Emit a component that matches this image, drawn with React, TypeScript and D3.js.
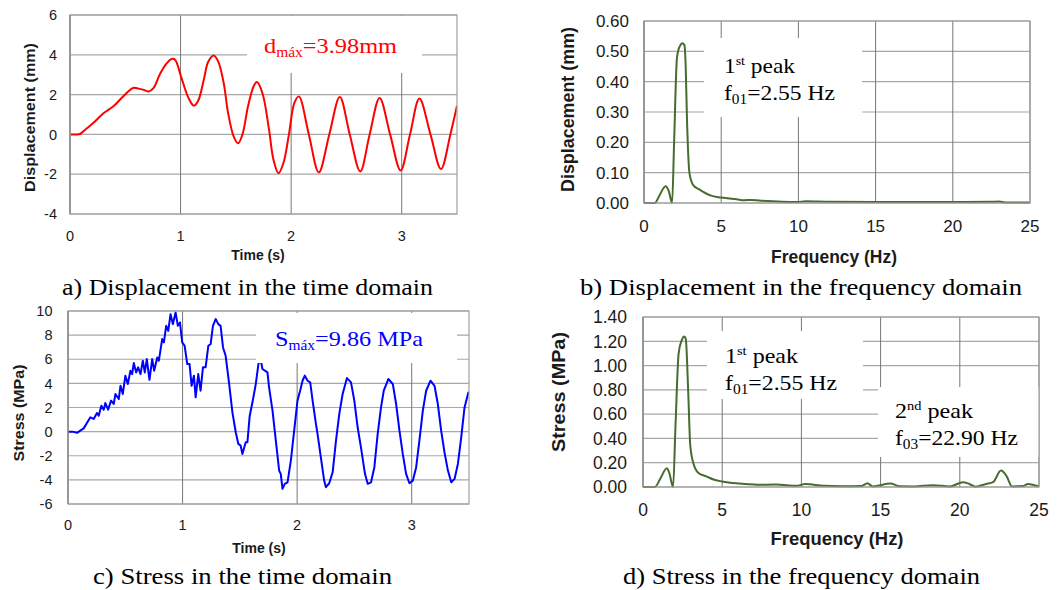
import React from 'react';
import * as d3 from 'd3';

// ---------- DATA ----------
const dispTime = [0, 0.05, 0.09, 0.15, 0.21, 0.3, 0.39, 0.48, 0.57, 0.62, 0.66, 0.71, 0.755, 0.815, 0.876, 0.92, 0.95, 1.01, 1.07, 1.12, 1.16, 1.21, 1.25, 1.3, 1.34, 1.39, 1.43, 1.48, 1.52, 1.56, 1.61, 1.66, 1.69, 1.74, 1.8, 1.84, 1.885, 1.93, 1.98, 2.03, 2.07, 2.16, 2.25, 2.345, 2.44, 2.53, 2.625, 2.71, 2.8, 2.895, 2.99, 3.075, 3.16, 3.26, 3.355, 3.44, 3.5];
const dispVals = [0, 0, 0.02, 0.3, 0.57, 1.05, 1.4, 1.9, 2.33, 2.3, 2.25, 2.16, 2.33, 3.05, 3.58, 3.79, 3.75, 2.8, 1.85, 1.44, 1.7, 2.75, 3.65, 3.97, 3.67, 2.58, 1.07, -0.1, -0.45, 0, 1.41, 2.41, 2.63, 2.08, 0.24, -1.27, -1.95, -1.44, 0, 1.6, 1.91, 0, -1.91, 0, 1.88, 0, -1.86, 0, 1.83, 0, -1.81, 0, 1.8, 0, -1.74, 0, 1.44];

const stressTime = [0, 0.04, 0.078, 0.137, 0.195, 0.224, 0.253, 0.268, 0.291, 0.312, 0.326, 0.35, 0.376, 0.399, 0.414, 0.443, 0.458, 0.478, 0.501, 0.522, 0.545, 0.56, 0.574, 0.595, 0.612, 0.633, 0.653, 0.67, 0.688, 0.711, 0.735, 0.752, 0.779, 0.793, 0.822, 0.837, 0.857, 0.875, 0.895, 0.915, 0.939, 0.959, 0.977, 0.997, 1.018, 1.041, 1.061, 1.079, 1.099, 1.114, 1.137, 1.157, 1.178, 1.201, 1.225, 1.245, 1.265, 1.289, 1.312, 1.332, 1.353, 1.376, 1.405, 1.435, 1.464, 1.487, 1.507, 1.522, 1.551, 1.566, 1.586, 1.61, 1.639, 1.662, 1.68, 1.697, 1.741, 1.755, 1.785, 1.814, 1.843, 1.857, 1.872, 1.892, 1.916, 1.945, 1.974, 2.003, 2.026, 2.047, 2.067, 2.091, 2.114, 2.135, 2.164, 2.178, 2.207, 2.236, 2.251, 2.28, 2.31, 2.339, 2.368, 2.397, 2.435, 2.47, 2.499, 2.528, 2.557, 2.592, 2.616, 2.645, 2.674, 2.703, 2.732, 2.756, 2.796, 2.835, 2.864, 2.893, 2.922, 2.951, 2.98, 3.01, 3.039, 3.067, 3.097, 3.126, 3.164, 3.199, 3.228, 3.257, 3.286, 3.316, 3.345, 3.374, 3.403, 3.432, 3.461, 3.496];
const stressVals = [0, 0, -0.1, 0.27, 1.19, 1.05, 1.55, 1.32, 2.15, 1.82, 2.37, 1.82, 2.57, 2.29, 3.12, 2.7, 3.8, 3.12, 4.64, 3.95, 5.05, 4.77, 5.68, 4.91, 5.33, 4.77, 5.88, 4.91, 6.01, 4.3, 6.01, 5.05, 6.15, 5.88, 7.67, 7.4, 8.77, 8.36, 9.74, 8.91, 9.88, 8.77, 9.05, 7.4, 7.12, 5.6, 5.6, 3.8, 4.64, 2.84, 4.77, 3.39, 5.33, 5.33, 7.12, 7.26, 8.77, 9.33, 8.91, 8.77, 6.98, 6.29, 4.08, 1.6, -0.05, -1.02, -1.16, -1.85, -0.88, -0.88, 1.32, 2.43, 3.95, 5.6, 6.1, 5.19, 4.91, 3.67, 1.74, -0.75, -3.23, -3.5, -4.74, -4.33, -4.2, -2.4, 0.08, 2.57, 3.39, 4.22, 4.64, 4.22, 4.08, 2.57, 0.64, -0.19, -2.13, -4.06, -4.61, -4.28, -3.37, -0.75, 1.47, 3.12, 4.44, 4.08, 2.57, 0.36, -1.3, -3.5, -4.33, -4.2, -2.95, -0.19, 2.01, 3.39, 4.36, 3.95, 2.29, 0.08, -1.85, -3.5, -4.28, -4.06, -2.95, -0.75, 1.74, 3.39, 4.22, 3.8, 2.29, 0.08, -1.71, -3.23, -4.2, -3.92, -2.68, -0.47, 2.01, 3.3];

const dispFreq = [0, 0.7, 1.0, 1.4, 1.6, 1.82, 1.95, 2.13, 2.3, 2.5, 2.62, 2.7, 2.78, 2.95, 3.2, 3.6, 4.3, 5.0, 6.0, 6.5, 6.9, 7.5, 9.9, 10.5, 12, 15, 20, 22.5, 23, 23.4, 25];
const dispAmp = [0, 0, 0.025, 0.055, 0.04, 0, 0.2, 0.476, 0.515, 0.527, 0.52, 0.45, 0.284, 0.097, 0.058, 0.044, 0.025, 0.018, 0.012, 0.009, 0.01, 0.008, 0.003, 0.006, 0.004, 0.003, 0.003, 0.004, 0.005, 0.002, 0.002];

const stressFreq = [0, 0.75, 1.1, 1.5, 1.65, 1.9, 2.05, 2.25, 2.45, 2.6, 2.7, 2.85, 2.98, 3.15, 3.5, 4.0, 4.5, 5.0, 5.9, 6.5, 7.2, 8.4, 9.7, 10.25, 11.4, 12.6, 13.8, 14.17, 14.5, 15.62, 16.2, 17.1, 18.3, 19.4, 20.2, 20.6, 21.0, 21.65, 22.1, 22.6, 22.95, 23.3, 24.0, 24.3, 24.7, 25];
const stressAmp = [0, 0, 0.07, 0.155, 0.12, 0, 0.5, 1.1, 1.21, 1.24, 1.22, 0.8, 0.35, 0.21, 0.115, 0.087, 0.06, 0.045, 0.03, 0.025, 0.018, 0.02, 0.01, 0.025, 0.01, 0.006, 0.008, 0.03, 0.005, 0.028, 0.006, 0.005, 0.015, 0.005, 0.04, 0.025, 0.003, 0.025, 0.04, 0.135, 0.09, 0.005, 0.008, 0.025, 0.015, 0.005];

const timeTicks = [0, 1, 2, 3];
const dispTicks = [-4, -2, 0, 2, 4, 6];
const stressTicks = [-6, -4, -2, 0, 2, 4, 6, 8, 10];
const freqTicks = [0, 5, 10, 15, 20, 25];
const dispAmpTicks = [0, 0.1, 0.2, 0.3, 0.4, 0.5, 0.6];
const stressAmpTicks = [0, 0.2, 0.4, 0.6, 0.8, 1.0, 1.2, 1.4];

const captions = [
  'a) Displacement in the time domain',
  'b) Displacement in the frequency domain',
  'c) Stress in the time domain',
  'd) Stress in the frequency domain',
];

const SANS = "'Liberation Sans', Arial, sans-serif";
const SERIF = "'Liberation Serif', 'Times New Roman', serif";

type Rect = { l: number; r: number; t: number; b: number };
type Box = { x0: number; x1: number; y0: number; y1: number };

interface PanelProps {
  rect: Rect;
  xDomain: [number, number];
  yDomain: [number, number];
  xTicks: number[];
  yTicks: number[];
  yFmt: (v: number) => string;
  xs: number[];
  ys: number[];
  color: string;
  curve: d3.CurveFactory;
  lineWidth: number;
  tickSize: number;
  yLabelGap: number;
  xLabelBase: number;
  boxes: Box[];
  xTitle: string;
  xTitleX: number;
  xTitleY: number;
  xTitleSize: number;
  xTitleLen?: number;
  yTitle: string;
  yTitleX: number;
  yTitleY: number;
  yTitleSize: number;
  yTitleLen: number;
  children?: React.ReactNode;
}

function Panel(p: PanelProps) {
  const x = d3.scaleLinear().domain(p.xDomain).range([p.rect.l, p.rect.r]);
  const y = d3.scaleLinear().domain(p.yDomain).range([p.rect.b, p.rect.t]);
  const line = d3
    .line<number>()
    .x((_, i) => x(p.xs[i]))
    .y((d) => y(d))
    .curve(p.curve);
  const clipId = `clip-${p.rect.l}-${p.rect.t}`;
  return (
    <g>
      <defs>
        <clipPath id={clipId}>
          <rect x={p.rect.l} y={p.rect.t - 2} width={p.rect.r - p.rect.l} height={p.rect.b - p.rect.t + 4} />
        </clipPath>
      </defs>
      {p.yTicks.map((v) => (
        <line key={'h' + v} x1={p.rect.l} x2={p.rect.r} y1={y(v)} y2={y(v)} stroke="#a8a8a8" strokeWidth={1.2} />
      ))}
      {p.xTicks.map((v) => (
        <line key={'v' + v} x1={x(v)} x2={x(v)} y1={p.rect.t} y2={p.rect.b} stroke="#777" strokeWidth={1} />
      ))}
      <path d={line(p.ys) || ''} fill="none" stroke={p.color} strokeWidth={p.lineWidth} strokeLinejoin="round" clipPath={`url(#${clipId})`} />
      {p.boxes.map((bx, i) => (
        <rect key={i} x={bx.x0} y={bx.y0} width={bx.x1 - bx.x0} height={bx.y1 - bx.y0} fill="#fff" />
      ))}
      <rect x={p.rect.l} y={p.rect.t} width={p.rect.r - p.rect.l} height={p.rect.b - p.rect.t} fill="none" stroke="#a0a0a0" strokeWidth={1.2} />
      <line x1={p.rect.l} x2={p.rect.l} y1={p.rect.t} y2={p.rect.b} stroke="#8a8a8a" strokeWidth={1.2} />
      {p.yTicks.map((v) => (
        <text key={'yl' + v} x={p.rect.l - p.yLabelGap} y={y(v)} dy="0.36em" textAnchor="end" fontFamily={SANS} fontSize={p.tickSize} fill="#1a1a1a">
          {p.yFmt(v)}
        </text>
      ))}
      {p.xTicks.map((v) => (
        <text key={'xl' + v} x={x(v)} y={p.xLabelBase} textAnchor="middle" fontFamily={SANS} fontSize={p.tickSize} fill="#1a1a1a">
          {v}
        </text>
      ))}
      <text
        x={p.xTitleX}
        y={p.xTitleY}
        textAnchor="middle"
        fontFamily={SANS}
        fontWeight="bold"
        fontSize={p.xTitleSize}
        fill="#1a1a1a"
        {...(p.xTitleLen ? { textLength: p.xTitleLen, lengthAdjust: 'spacingAndGlyphs' } : {})}
      >
        {p.xTitle}
      </text>
      <text
        transform={`translate(${p.yTitleX},${p.yTitleY}) rotate(-90)`}
        dy="0.36em"
        textAnchor="middle"
        fontFamily={SANS}
        fontWeight="bold"
        fontSize={p.yTitleSize}
        textLength={p.yTitleLen}
        lengthAdjust="spacingAndGlyphs"
        fill="#1a1a1a"
      >
        {p.yTitle}
      </text>
      {p.children}
    </g>
  );
}

const fmtInt = (v: number) => String(v);
const fmt2 = (v: number) => d3.format('.2f')(v);

function PeakLabel({ x, y, ord, sup, sub, val, len1, len2, size }: { x: number; y: number; ord: string; sup: string; sub: string; val: string; len1: number; len2: number; size: number }) {
  return (
    <g fontFamily={SERIF} fill="#000">
      <text x={x} y={y} fontSize={size} textLength={len1} lengthAdjust="spacingAndGlyphs">
        {ord}
        <tspan fontSize={size * 0.6} dy={-size * 0.38}>{sup}</tspan>
        <tspan dy={size * 0.38}>{' peak'}</tspan>
      </text>
      <text x={x} y={y + 27} fontSize={size} textLength={len2} lengthAdjust="spacingAndGlyphs">
        f
        <tspan fontSize={size * 0.65} dy={size * 0.18}>{sub}</tspan>
        <tspan dy={-size * 0.18}>{'=' + val}</tspan>
      </text>
    </g>
  );
}

export default function App() {
  return (
    <svg width={1062} height={590} style={{ position: 'absolute', left: 0, top: 0, background: '#fff' }}>
      <rect x={0} y={0} width={1062} height={590} fill="#fff" />
      {/* a) */}
      <Panel
        rect={{ l: 70, r: 457, t: 15, b: 214 }}
        xDomain={[0, 3.5]}
        yDomain={[-4, 6]}
        xTicks={timeTicks}
        yTicks={dispTicks}
        yFmt={fmtInt}
        xs={dispTime}
        ys={dispVals}
        color="#ff0000"
        curve={d3.curveCatmullRom.alpha(0.5)}
        lineWidth={2}
        tickSize={14.5}
        yLabelGap={13}
        xLabelBase={241}
        boxes={[{ x0: 247, x1: 422, y0: 16, y1: 73 }]}
        xTitle="Time (s)"
        xTitleX={258}
        xTitleY={260}
        xTitleSize={14}
        yTitle="Displacement (mm)"
        yTitleX={30}
        yTitleY={117.5}
        yTitleSize={15}
        yTitleLen={149}
      >
        <text x={264} y={53} fontFamily={SERIF} fontSize={22} fill="#ff0000" textLength={133} lengthAdjust="spacingAndGlyphs">
          d<tspan fontSize={14} dy={4}>máx</tspan>
          <tspan dy={-4}>=3.98mm</tspan>
        </text>
      </Panel>
      {/* b) */}
      <Panel
        rect={{ l: 644, r: 1030, t: 21, b: 203 }}
        xDomain={[0, 25]}
        yDomain={[0, 0.6]}
        xTicks={freqTicks}
        yTicks={dispAmpTicks}
        yFmt={fmt2}
        xs={dispFreq}
        ys={dispAmp}
        color="#466c30"
        curve={d3.curveMonotoneX}
        lineWidth={2}
        tickSize={17}
        yLabelGap={15}
        xLabelBase={232}
        boxes={[{ x0: 704, x1: 862, y0: 38, y1: 117 }]}
        xTitle="Frequency (Hz)"
        xTitleX={834}
        xTitleY={263}
        xTitleSize={17.5}
        xTitleLen={126}
        yTitle="Displacement (mm)"
        yTitleX={568}
        yTitleY={109.5}
        yTitleSize={17.5}
        yTitleLen={165}
      >
        <PeakLabel x={724} y={73} ord="1" sup="st" sub="01" val="2.55 Hz" len1={71} len2={111} size={22} />
      </Panel>
      {/* c) */}
      <Panel
        rect={{ l: 68, r: 469, t: 311, b: 504 }}
        xDomain={[0, 3.5]}
        yDomain={[-6, 10]}
        xTicks={timeTicks}
        yTicks={stressTicks}
        yFmt={fmtInt}
        xs={stressTime}
        ys={stressVals}
        color="#0000ff"
        curve={d3.curveLinear}
        lineWidth={2}
        tickSize={14.5}
        yLabelGap={15.5}
        xLabelBase={530}
        boxes={[{ x0: 256, x1: 457, y0: 313, y1: 363 }]}
        xTitle="Time (s)"
        xTitleX={259}
        xTitleY={553}
        xTitleSize={14}
        yTitle="Stress (MPa)"
        yTitleX={18.5}
        yTitleY={413}
        yTitleSize={15}
        yTitleLen={97}
      >
        <text x={275} y={346} fontFamily={SERIF} fontSize={22} fill="#0000ff" textLength={148} lengthAdjust="spacingAndGlyphs">
          S<tspan fontSize={14} dy={4}>máx</tspan>
          <tspan dy={-4}>=9.86 MPa</tspan>
        </text>
      </Panel>
      {/* d) */}
      <Panel
        rect={{ l: 643, r: 1039, t: 317, b: 487 }}
        xDomain={[0, 25]}
        yDomain={[0, 1.4]}
        xTicks={freqTicks}
        yTicks={stressAmpTicks}
        yFmt={fmt2}
        xs={stressFreq}
        ys={stressAmp}
        color="#466c30"
        curve={d3.curveMonotoneX}
        lineWidth={2}
        tickSize={17.5}
        yLabelGap={16}
        xLabelBase={516}
        boxes={[
          { x0: 707, x1: 863, y0: 331, y1: 399 },
          { x0: 878, x1: 1039, y0: 387, y1: 457 },
        ]}
        xTitle="Frequency (Hz)"
        xTitleX={837}
        xTitleY={545}
        xTitleSize={18.5}
        xTitleLen={133}
        yTitle="Stress (MPa)"
        yTitleX={558}
        yTitleY={392}
        yTitleSize={18.5}
        yTitleLen={120}
      >
        <PeakLabel x={725} y={363} ord="1" sup="st" sub="01" val="2.55 Hz" len1={73} len2={112} size={22} />
        <PeakLabel x={895} y={418} ord="2" sup="nd" sub="03" val="22.90 Hz" len1={78} len2={123} size={22} />
      </Panel>
      {/* captions */}
      <g fontFamily={SERIF} fontSize={24} fill="#000">
        <text x={62} y={295} textLength={371} lengthAdjust="spacingAndGlyphs">{captions[0]}</text>
        <text x={580} y={295} textLength={442} lengthAdjust="spacingAndGlyphs">{captions[1]}</text>
        <text x={93} y={584} textLength={299} lengthAdjust="spacingAndGlyphs">{captions[2]}</text>
        <text x={623} y={584} textLength={357} lengthAdjust="spacingAndGlyphs">{captions[3]}</text>
      </g>
    </svg>
  );
}
